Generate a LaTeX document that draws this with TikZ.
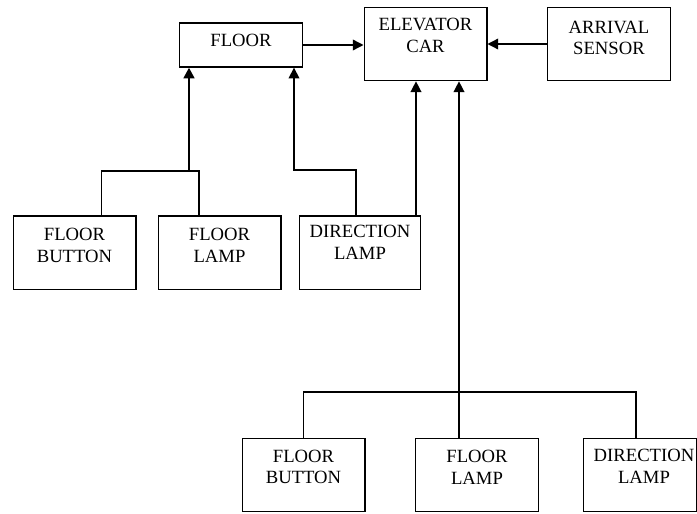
\documentclass[tikz,border=0pt]{standalone}
\usepackage{fontspec}
\setmainfont{Liberation Serif}
\usetikzlibrary{arrows.meta,positioning,calc}

\begin{document}
\begin{tikzpicture}[
  x=0.75pt,y=-0.75pt,
  font=\fontsize{14}{16.3}\selectfont,
  >={Triangle[length=8pt,width=8pt]},
  unit/.style={draw,line width=1pt,minimum width=92pt,minimum height=55pt,inner sep=0pt},
  txt/.style={align=center,inner sep=0pt},
  link/.style={line width=1pt},
  trunk/.style={line width=1.8pt}
]
  \useasboundingbox (0,0) rectangle (697,514);

  \node[unit,minimum height=33pt,label={[txt,yshift=3.5pt]center:FLOOR}] (floor) at (241,45) {};
  \node[unit,label={[txt,yshift=6.5pt]center:{ELEVATOR\\CAR}}] (car) at (425.5,44) {};
  \node[unit,label={[txt,yshift=4.5pt]center:{ARRIVAL\\SENSOR}}] (sensor) at (609,44) {};

  \node[unit,label={[txt,yshift=5.5pt]center:{FLOOR\\BUTTON}}] (fb1) at (74.5,252.5) {};
  \node[unit,label={[txt,yshift=5.5pt]center:{FLOOR\\LAMP}}] (fl1) at (219.5,252.5) {};
  \node[unit,minimum width=91pt,label={[txt,yshift=7.5pt]center:{DIRECTION\\LAMP}}] (dl1) at (360,252.5) {};

  \node[unit,label={[txt,yshift=6pt]center:{FLOOR\\BUTTON}}] (fb2) at (303.5,475) {};
  \node[unit,label={[txt,yshift=5.5pt]center:{FLOOR\\LAMP}}] (fl2) at (477,475) {};
  \node[unit,minimum width=85pt,label={[txt,xshift=3pt,yshift=6.5pt]center:{DIRECTION\\LAMP}}] (dl2) at (640,475) {};

  \coordinate (j1) at (189,171);
  \coordinate (j2) at (294,170);
  \coordinate (j3) at (459,392);

  % top row
  \draw[->,link] (floor.east) -- (car.west |- floor.east);
  \draw[->,link] (sensor.west) -- (car.east);

  % floor button / lamp into floor
  \draw[link] ([xshift=20pt]fb1.north) |- (j1) -| ([xshift=-15.4pt]fl1.north);
  \draw[->,trunk] (j1) -- (j1 |- floor.south);

  % direction lamp
  \draw[->,link] ([xshift=-3pt]dl1.north) |- (j2) -- (j2 |- floor.south);
  \draw[->,link] ([xshift=42pt]dl1.north) coordinate (d1) -- (d1 |- car.south);

  % lower group into car
  \draw[link] (fb2.north) |- (j3) -| ([xshift=-3pt]dl2.north);
  \draw[link] (j3) -- (j3 |- fl2.north);
  \draw[->,link] (j3) -- (j3 |- car.south);
\end{tikzpicture}
\end{document}
